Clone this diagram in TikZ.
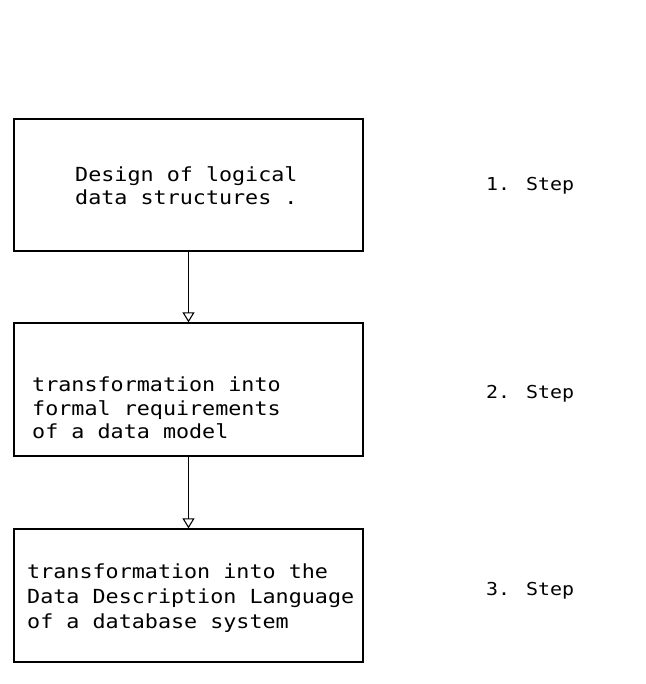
\documentclass[tikz,border=0pt]{standalone}
\usepackage{fontspec}
\newfontfamily\plotfont[FakeStretch=1.12]{DejaVu Sans Mono}
\usetikzlibrary{arrows.meta}
\begin{document}
\begin{tikzpicture}[x=1pt,y=-1pt,
  stagebox/.style={draw=black, line width=1.3pt, minimum width=349pt, minimum height=133pt, inner sep=0pt},
  txt/.style={anchor=base west, inner sep=0pt, font=\plotfont\fontsize{19.4}{24}\selectfont},
  steplabel/.style={txt, font=\plotfont\fontsize{17.8}{22}\selectfont},
  flow/.style={draw=black, line width=1.2pt, -{Triangle[open, length=10pt, width=12pt, line width=1.1pt]}}]
\useasboundingbox (0,0) rectangle (645,684);
% the three stages
\node[stagebox, minimum height=132pt] (b1) at (188.5,185) {};
\node[stagebox] (b2) at (188.5,389.5) {};
\node[stagebox] (b3) at (188.5,595.5) {};
% stage texts
\node[txt] (t11) at (75,182) {Design of logical};
\node[txt] (t12) at (75,205) {data structures .};
\node[txt] (t21) at (32,391.5) {transformation into};
\node[txt] (t22) at (32,415) {formal requirements};
\node[txt] (t23) at (32,438.5) {of a data model};
\node[txt] (t31) at (27,578) {transformation into the};
\node[txt] (t32) at (27,603) {Data Description Language};
\node[txt] (t33) at (27,628) {of a database system};
% step labels
\node[steplabel] (s1) at (486,190.5) {1. Step};
\node[steplabel] (s2) at (486,398) {2. Step};
\node[steplabel] (s3) at (486,595) {3. Step};
% connectors
\draw[flow] (b1.south) -- (b2.north);
\draw[flow] (b2.south) -- (b3.north);
\end{tikzpicture}
\end{document}
